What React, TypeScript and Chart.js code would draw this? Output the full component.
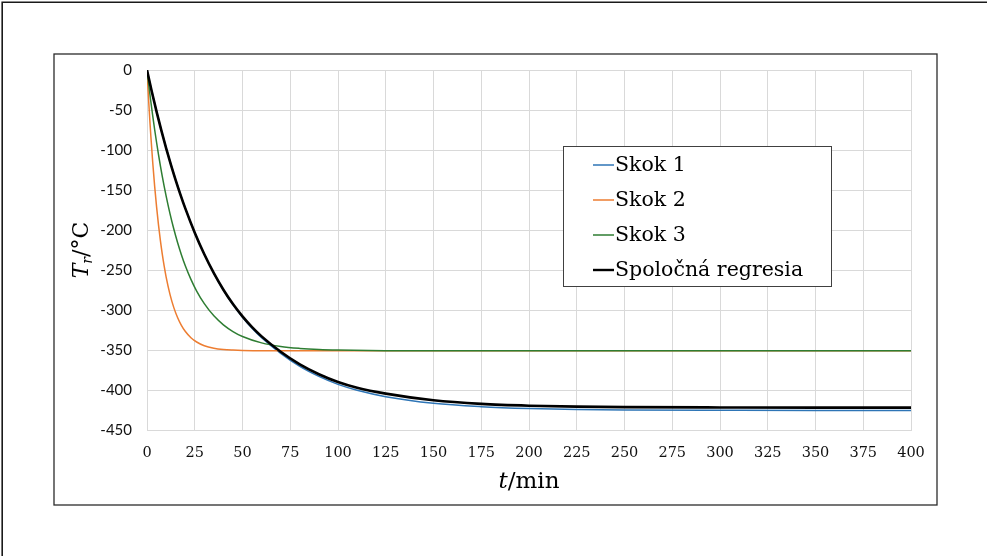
import { useEffect, useRef } from "react";
import { Chart, registerables } from "chart.js";

Chart.register(...registerables);

// Step responses of the reactor temperature T_r (°C) versus time t (min)
const tSkok1 = [0, 2.5, 5, 7.5, 10, 12.5, 15, 17.5, 20, 25, 30, 35, 40, 45, 50, 55, 60, 70, 80, 90, 100, 110, 125, 150, 175, 200, 225, 250, 300, 350, 400];
const skok1 = [0, -26.8, -51.8, -75.3, -97.3, -117.9, -137.3, -155.4, -172.4, -203.2, -230.3, -254.1, -275.0, -293.3, -309.0, -322.8, -334.6, -354.2, -370.5, -383.0, -393.0, -400.3, -408.3, -416.6, -420.8, -423.1, -424.3, -424.9, -425.3, -425.5, -425.5];

const tSkok2 = [0, 0.5, 1, 1.5, 2, 3, 4, 5, 6, 7, 8, 9, 10, 12, 14, 16, 18, 20, 23, 26, 30, 35, 40, 45, 50, 60, 70, 100, 200, 300, 400];
const skok2 = [0, -22.6, -43.8, -63.6, -82.2, -115.7, -145.1, -170.8, -193.3, -213.0, -230.2, -245.3, -258.5, -280.1, -296.7, -309.4, -319.2, -326.6, -334.6, -340.0, -344.6, -347.7, -349.3, -350.1, -350.6, -350.9, -351, -351, -351, -351, -351];

const tSkok3 = [0, 1, 2, 3, 4, 5, 6, 8, 10, 12, 14, 16, 18, 20, 23, 26, 30, 35, 40, 45, 50, 60, 70, 80, 90, 100, 125, 150, 200, 300, 400];
const skok3 = [0, -20.3, -39.4, -57.4, -74.4, -90.3, -105.4, -133.0, -157.4, -179.2, -198.5, -215.6, -230.8, -244.3, -261.7, -276.3, -292.1, -307.3, -318.5, -326.9, -333.1, -341.1, -345.6, -348.0, -349.4, -350.1, -350.8, -351, -351, -351, -351];

const tRegresia = [0, 2.5, 5, 7.5, 10, 12.5, 15, 17.5, 20, 25, 30, 35, 40, 45, 50, 55, 60, 70, 80, 90, 100, 110, 125, 150, 175, 200, 225, 250, 300, 350, 400];
const regresia = [0, -26.9, -52.0, -75.5, -97.6, -118.3, -137.6, -155.7, -172.7, -203.4, -230.4, -254.0, -274.7, -292.6, -308.0, -321.4, -333.0, -352.2, -368.0, -380.3, -390.0, -397.2, -404.5, -412.8, -417.3, -419.6, -420.8, -421.4, -421.8, -422, -422];

const seriesNames = ["Skok 1", "Skok 2", "Skok 3", "Spoločná regresia"];
const seriesColors = ["#2E75B6", "#ED7D31", "#2E7D32", "#000000"];
const seriesWidths = [1.5, 1.5, 1.5, 2.6];
// lower order is painted later (on top)
const seriesOrder = [3, 2, 1, 0];

const xMin = 0;
const xMax = 400;
const xStep = 25;
const yMin = -450;
const yMax = 0;
const yStep = 50;

const serifFont = "'DejaVu Serif', 'Liberation Serif', serif";
const sansFont = "Lato, 'Liberation Sans', sans-serif";

function points(t: number[], v: number[]) {
  return t.map((x, i) => ({ x, y: v[i] }));
}

// Draws a run of text pieces with their own fonts and vertical shifts, centred on (cx, baseline)
function drawRuns(
  ctx: CanvasRenderingContext2D,
  runs: { text: string; font: string; dy: number }[],
  cx: number,
  baseline: number
) {
  let total = 0;
  const widths = runs.map((r) => {
    ctx.font = r.font;
    const w = ctx.measureText(r.text).width;
    total += w;
    return w;
  });
  let x = cx - total / 2;
  ctx.textAlign = "left";
  ctx.textBaseline = "alphabetic";
  runs.forEach((r, i) => {
    ctx.font = r.font;
    ctx.fillText(r.text, x, baseline + r.dy);
    x += widths[i];
  });
}

const decorations = {
  id: "decorations",
  beforeDraw(chart: Chart) {
    const ctx = chart.ctx;
    ctx.save();
    ctx.fillStyle = "#ffffff";
    ctx.fillRect(0, 0, chart.width, chart.height);
    // outer frame (top and left edges)
    ctx.strokeStyle = "#1a1a1a";
    ctx.lineWidth = 1.6;
    ctx.beginPath();
    ctx.moveTo(2.2, chart.height);
    ctx.lineTo(2.2, 2.2);
    ctx.lineTo(chart.width, 2.2);
    ctx.stroke();
    // chart frame
    ctx.strokeStyle = "#2b2b2b";
    ctx.lineWidth = 1.3;
    ctx.strokeRect(54, 54, 883, 451);
    ctx.restore();
  },
  afterDraw(chart: Chart) {
    const ctx = chart.ctx;
    const area = chart.chartArea;
    ctx.save();
    ctx.fillStyle = "#000000";

    // x axis title: t/min
    drawRuns(
      ctx,
      [
        { text: "t", font: `italic 23px ${serifFont}`, dy: 0 },
        { text: "/min", font: `23px ${serifFont}`, dy: 0 },
      ],
      (area.left + area.right) / 2,
      488
    );

    // y axis title: T_r/°C (rotated)
    ctx.save();
    ctx.translate(88, 250);
    ctx.rotate(-Math.PI / 2);
    drawRuns(
      ctx,
      [
        { text: "T", font: `italic 22px ${serifFont}`, dy: 0 },
        { text: "r", font: `italic 14px ${serifFont}`, dy: 4 },
        { text: "/°C", font: `22px ${serifFont}`, dy: 0 },
      ],
      0,
      0
    );
    ctx.restore();

    // legend box
    const bx = 563.5;
    const by = 146.5;
    const bw = 268;
    const bh = 140;
    ctx.fillStyle = "#ffffff";
    ctx.fillRect(bx, by, bw, bh);
    ctx.strokeStyle = "#404040";
    ctx.lineWidth = 1;
    ctx.strokeRect(bx, by, bw, bh);

    const rowY0 = 165;
    const rowGap = 35;
    chart.data.datasets.forEach((ds: any, i: number) => {
      const y = rowY0 + i * rowGap;
      ctx.strokeStyle = ds.borderColor;
      ctx.lineWidth = ds.borderWidth > 2 ? 2.4 : 1.5;
      ctx.beginPath();
      ctx.moveTo(593, y);
      ctx.lineTo(614, y);
      ctx.stroke();
      ctx.fillStyle = "#000000";
      ctx.font = `20.5px ${serifFont}`;
      ctx.textAlign = "left";
      ctx.textBaseline = "middle";
      ctx.fillText(ds.label, 615, y + 1);
    });
    ctx.restore();
  },
};

export default function App() {
  const canvasRef = useRef<HTMLCanvasElement | null>(null);

  useEffect(() => {
    if (!canvasRef.current) return;
    const seriesT = [tSkok1, tSkok2, tSkok3, tRegresia];
    const seriesV = [skok1, skok2, skok3, regresia];

    const chart = new Chart(canvasRef.current, {
      type: "line",
      data: {
        datasets: seriesNames.map((label, i) => ({
          label,
          data: points(seriesT[i], seriesV[i]),
          borderColor: seriesColors[i],
          backgroundColor: seriesColors[i],
          borderWidth: seriesWidths[i],
          pointRadius: 0,
          fill: false,
          cubicInterpolationMode: "monotone" as const,
          order: seriesOrder[i],
        })),
      },
      options: {
        animation: false,
        responsive: false,
        maintainAspectRatio: false,
        layout: { padding: { left: 54, top: 70, right: 76, bottom: 46 } },
        plugins: {
          legend: { display: false },
          tooltip: { enabled: false },
        },
        scales: {
          x: {
            type: "linear",
            min: xMin,
            max: xMax,
            ticks: {
              stepSize: xStep,
              color: "#111111",
              font: { family: serifFont, size: 14.5 },
              padding: 15,
              maxRotation: 0,
            },
            grid: { color: "#d9d9d9", lineWidth: 1, drawTicks: false },
            border: { display: true, color: "#d9d9d9", width: 1 },
            afterFit: (s: any) => {
              s.height = 80;
            },
          },
          y: {
            type: "linear",
            min: yMin,
            max: yMax,
            ticks: {
              stepSize: yStep,
              color: "#111111",
              font: { family: sansFont, size: 15 },
              padding: 15,
            },
            grid: { color: "#d9d9d9", lineWidth: 1, drawTicks: false },
            border: { display: true, color: "#d9d9d9", width: 1 },
            afterFit: (s: any) => {
              s.width = 93;
            },
          },
        },
      },
      plugins: [decorations],
    });

    return () => chart.destroy();
  }, []);

  return (
    <div style={{ position: "fixed", left: 0, top: 0, width: 987, height: 556, background: "#fff" }}>
      <canvas ref={canvasRef} width={987} height={556} style={{ display: "block", width: 987, height: 556 }} />
    </div>
  );
}
